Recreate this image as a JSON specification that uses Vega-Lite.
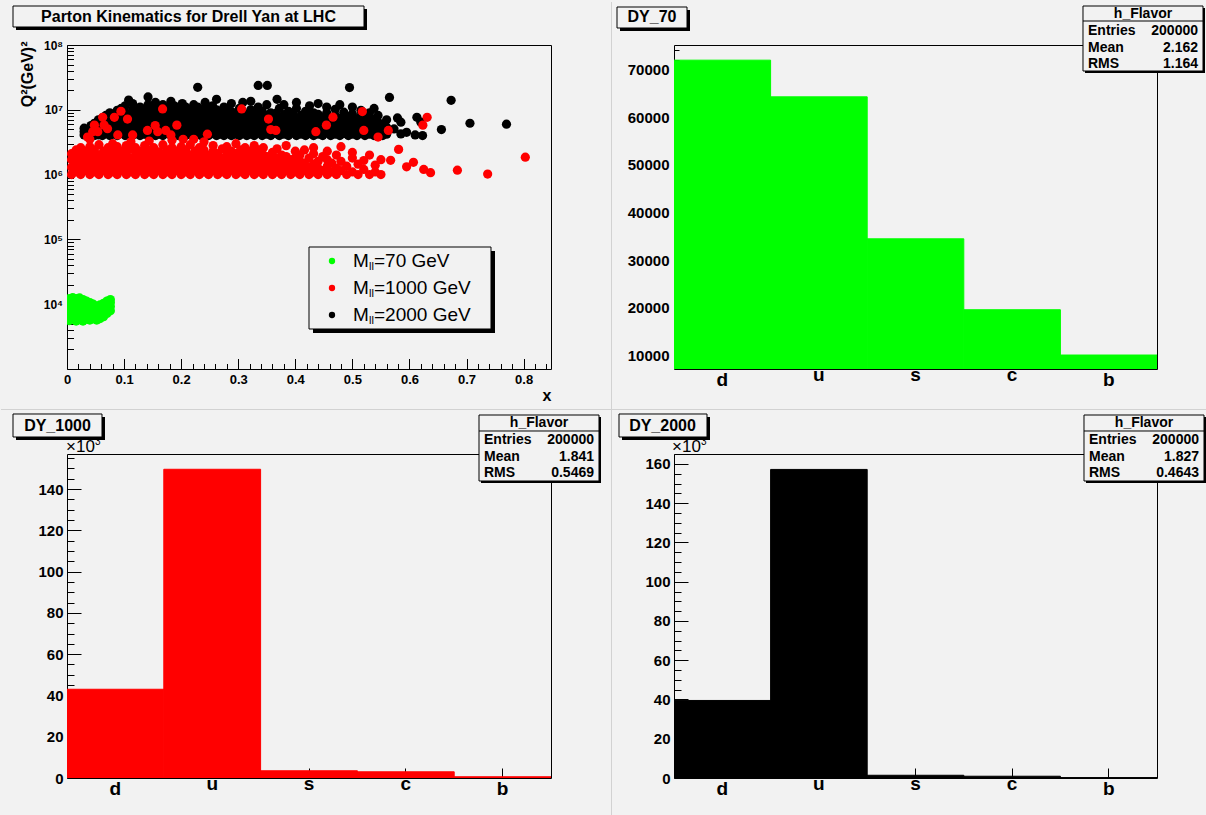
{
"$schema": "https://vega.github.io/schema/vega-lite/v6.json",
"background": "#f2f2f2",
"padding": 0,
"autosize": {"type": "pad"},
"data": {"values": [{}]},
"columns": 2,
"spacing": {"row": 85, "column": 123},
"bounds": "flush",
"config": {
  "font": "Liberation Sans",
  "view": {"stroke": "#000000", "strokeWidth": 1},
  "axis": {"domain": false, "grid": false, "zindex": 1, "labelFont": "Liberation Sans", "labelFontWeight": "bold", "labelColor": "#000000", "tickColor": "#000000", "tickWidth": 1, "titleFont": "Liberation Sans", "titleFontWeight": "bold", "titleColor": "#000000", "labelOverlap": false, "labelFlush": false},
  "text": {"font": "Liberation Sans", "color": "#000000"}
},
"concat": [
{
  "width": 484, "height": 324,
  "resolve": {"scale": {"x": "independent", "y": "independent"}},
  "layer": [
    {
      "data": {"values": [
{"s":"70","x":0.004,"q":5600},{"s":"70","x":0.004,"q":6500},{"s":"70","x":0.004,"q":7600},{"s":"70","x":0.004,"q":8900},{"s":"70","x":0.004,"q":10500},{"s":"70","x":0.004,"q":12200},
{"s":"70","x":0.010,"q":6000},{"s":"70","x":0.010,"q":7000},{"s":"70","x":0.010,"q":8200},{"s":"70","x":0.010,"q":9600},{"s":"70","x":0.010,"q":11300},{"s":"70","x":0.010,"q":12600},
{"s":"70","x":0.016,"q":5500},{"s":"70","x":0.016,"q":6400},{"s":"70","x":0.016,"q":7500},{"s":"70","x":0.016,"q":8800},{"s":"70","x":0.016,"q":10300},{"s":"70","x":0.016,"q":12200},
{"s":"70","x":0.022,"q":5800},{"s":"70","x":0.022,"q":6800},{"s":"70","x":0.022,"q":8000},{"s":"70","x":0.022,"q":9400},{"s":"70","x":0.022,"q":11000},{"s":"70","x":0.022,"q":12500},
{"s":"70","x":0.028,"q":5500},{"s":"70","x":0.028,"q":6300},{"s":"70","x":0.028,"q":7400},{"s":"70","x":0.028,"q":8700},{"s":"70","x":0.028,"q":10200},{"s":"70","x":0.028,"q":11800},
{"s":"70","x":0.034,"q":5900},{"s":"70","x":0.034,"q":7000},{"s":"70","x":0.034,"q":8300},{"s":"70","x":0.034,"q":9800},{"s":"70","x":0.034,"q":11200},
{"s":"70","x":0.040,"q":5700},{"s":"70","x":0.040,"q":6600},{"s":"70","x":0.040,"q":7800},{"s":"70","x":0.040,"q":9200},{"s":"70","x":0.040,"q":10600},
{"s":"70","x":0.046,"q":6000},{"s":"70","x":0.046,"q":7200},{"s":"70","x":0.046,"q":8500},{"s":"70","x":0.046,"q":10000},
{"s":"70","x":0.052,"q":5700},{"s":"70","x":0.052,"q":6700},{"s":"70","x":0.052,"q":7900},{"s":"70","x":0.052,"q":9300},
{"s":"70","x":0.058,"q":6000},{"s":"70","x":0.058,"q":7100},{"s":"70","x":0.058,"q":8400},{"s":"70","x":0.058,"q":9800},
{"s":"70","x":0.064,"q":6400},{"s":"70","x":0.064,"q":7500},{"s":"70","x":0.064,"q":8800},{"s":"70","x":0.064,"q":10300},
{"s":"70","x":0.070,"q":7200},{"s":"70","x":0.070,"q":8400},{"s":"70","x":0.070,"q":9800},{"s":"70","x":0.070,"q":11200},
{"s":"70","x":0.076,"q":7900},{"s":"70","x":0.076,"q":9200},{"s":"70","x":0.076,"q":10600},{"s":"70","x":0.076,"q":11800},
{"s":"2000","x":0.030,"q":4.1e6},{"s":"2000","x":0.030,"q":4.6e6},{"s":"2000","x":0.030,"q":5.2e6},
{"s":"2000","x":0.036,"q":4.0e6},{"s":"2000","x":0.036,"q":4.8e6},
{"s":"2000","x":0.042,"q":4.2e6},{"s":"2000","x":0.042,"q":5.0e6},{"s":"2000","x":0.042,"q":5.7e6},
{"s":"2000","x":0.048,"q":4.0e6},{"s":"2000","x":0.048,"q":4.5e6},{"s":"2000","x":0.048,"q":5.4e6},{"s":"2000","x":0.048,"q":6.2e6},
{"s":"2000","x":0.055,"q":4.1e6},{"s":"2000","x":0.055,"q":4.9e6},{"s":"2000","x":0.055,"q":5.9e6},{"s":"2000","x":0.055,"q":7.0e6},
{"s":"2000","x":0.062,"q":4.0e6},{"s":"2000","x":0.062,"q":4.6e6},{"s":"2000","x":0.062,"q":5.3e6},{"s":"2000","x":0.062,"q":6.4e6},{"s":"2000","x":0.062,"q":7.5e6},
{"s":"2000","x":0.068,"q":4.3e6},{"s":"2000","x":0.068,"q":5.0e6},{"s":"2000","x":0.068,"q":6.0e6},{"s":"2000","x":0.068,"q":8.2e6},
{"s":"2000","x":0.075,"q":4.0e6},{"s":"2000","x":0.075,"q":4.7e6},{"s":"2000","x":0.075,"q":5.6e6},{"s":"2000","x":0.075,"q":6.8e6},{"s":"2000","x":0.075,"q":9.0e6},
{"s":"2000","x":0.082,"q":4.2e6},{"s":"2000","x":0.082,"q":5.2e6},{"s":"2000","x":0.082,"q":6.2e6},{"s":"2000","x":0.082,"q":7.6e6},{"s":"2000","x":0.082,"q":8.6e6},
{"s":"2000","x":0.088,"q":4.0e6},{"s":"2000","x":0.088,"q":4.6e6},{"s":"2000","x":0.088,"q":5.8e6},{"s":"2000","x":0.088,"q":7.0e6},{"s":"2000","x":0.088,"q":9.8e6},
{"s":"2000","x":0.095,"q":4.4e6},{"s":"2000","x":0.095,"q":5.3e6},{"s":"2000","x":0.095,"q":6.5e6},{"s":"2000","x":0.095,"q":8.0e6},{"s":"2000","x":0.095,"q":10.5e6},
{"s":"2000","x":0.102,"q":4.0e6},{"s":"2000","x":0.102,"q":4.9e6},{"s":"2000","x":0.102,"q":6.0e6},{"s":"2000","x":0.102,"q":7.3e6},{"s":"2000","x":0.102,"q":9.0e6},{"s":"2000","x":0.102,"q":11.5e6},
{"s":"2000","x":0.108,"q":4.2e6},{"s":"2000","x":0.108,"q":5.5e6},{"s":"2000","x":0.108,"q":6.8e6},{"s":"2000","x":0.108,"q":8.4e6},{"s":"2000","x":0.108,"q":14.1e6},
{"s":"2000","x":0.115,"q":4.0e6},{"s":"2000","x":0.115,"q":4.7e6},{"s":"2000","x":0.115,"q":6.2e6},{"s":"2000","x":0.115,"q":7.8e6},{"s":"2000","x":0.115,"q":10.0e6},{"s":"2000","x":0.115,"q":12.5e6},
{"s":"2000","x":0.122,"q":4.3e6},{"s":"2000","x":0.122,"q":5.2e6},{"s":"2000","x":0.122,"q":6.5e6},{"s":"2000","x":0.122,"q":9.2e6},
{"s":"2000","x":0.128,"q":4.0e6},{"s":"2000","x":0.128,"q":4.8e6},{"s":"2000","x":0.128,"q":5.8e6},{"s":"2000","x":0.128,"q":7.2e6},{"s":"2000","x":0.128,"q":8.6e6},{"s":"2000","x":0.128,"q":11.0e6},
{"s":"2000","x":0.135,"q":4.2e6},{"s":"2000","x":0.135,"q":5.4e6},{"s":"2000","x":0.135,"q":6.6e6},{"s":"2000","x":0.135,"q":8.0e6},{"s":"2000","x":0.135,"q":10.2e6},
{"s":"2000","x":0.142,"q":4.0e6},{"s":"2000","x":0.142,"q":4.6e6},{"s":"2000","x":0.142,"q":5.9e6},{"s":"2000","x":0.142,"q":7.4e6},{"s":"2000","x":0.142,"q":9.4e6},{"s":"2000","x":0.142,"q":12.0e6},{"s":"2000","x":0.142,"q":15.8e6},
{"s":"2000","x":0.148,"q":4.3e6},{"s":"2000","x":0.148,"q":5.1e6},{"s":"2000","x":0.148,"q":6.3e6},{"s":"2000","x":0.148,"q":8.6e6},{"s":"2000","x":0.148,"q":11.0e6},
{"s":"2000","x":0.155,"q":4.0e6},{"s":"2000","x":0.155,"q":4.8e6},{"s":"2000","x":0.155,"q":5.7e6},{"s":"2000","x":0.155,"q":7.0e6},{"s":"2000","x":0.155,"q":9.0e6},{"s":"2000","x":0.155,"q":13.0e6},
{"s":"2000","x":0.162,"q":4.2e6},{"s":"2000","x":0.162,"q":5.3e6},{"s":"2000","x":0.162,"q":6.6e6},{"s":"2000","x":0.162,"q":8.0e6},{"s":"2000","x":0.162,"q":10.5e6},
{"s":"2000","x":0.168,"q":4.0e6},{"s":"2000","x":0.168,"q":4.7e6},{"s":"2000","x":0.168,"q":6.0e6},{"s":"2000","x":0.168,"q":7.5e6},{"s":"2000","x":0.168,"q":9.5e6},{"s":"2000","x":0.168,"q":12.0e6},
{"s":"2000","x":0.175,"q":4.4e6},{"s":"2000","x":0.175,"q":5.5e6},{"s":"2000","x":0.175,"q":6.9e6},{"s":"2000","x":0.175,"q":8.6e6},{"s":"2000","x":0.175,"q":11.0e6},
{"s":"2000","x":0.182,"q":4.0e6},{"s":"2000","x":0.182,"q":4.9e6},{"s":"2000","x":0.182,"q":6.2e6},{"s":"2000","x":0.182,"q":7.8e6},{"s":"2000","x":0.182,"q":10.0e6},{"s":"2000","x":0.182,"q":13.5e6},
{"s":"2000","x":0.188,"q":4.2e6},{"s":"2000","x":0.188,"q":5.6e6},{"s":"2000","x":0.188,"q":7.1e6},{"s":"2000","x":0.188,"q":9.0e6},{"s":"2000","x":0.188,"q":11.5e6},
{"s":"2000","x":0.195,"q":4.0e6},{"s":"2000","x":0.195,"q":4.6e6},{"s":"2000","x":0.195,"q":5.9e6},{"s":"2000","x":0.195,"q":6.8e6},{"s":"2000","x":0.195,"q":8.2e6},{"s":"2000","x":0.195,"q":10.5e6},
{"s":"2000","x":0.202,"q":4.3e6},{"s":"2000","x":0.202,"q":5.2e6},{"s":"2000","x":0.202,"q":6.4e6},{"s":"2000","x":0.202,"q":7.6e6},{"s":"2000","x":0.202,"q":9.6e6},{"s":"2000","x":0.202,"q":12.5e6},
{"s":"2000","x":0.208,"q":4.0e6},{"s":"2000","x":0.208,"q":4.8e6},{"s":"2000","x":0.208,"q":5.8e6},{"s":"2000","x":0.208,"q":7.2e6},{"s":"2000","x":0.208,"q":8.8e6},{"s":"2000","x":0.208,"q":11.0e6},
{"s":"2000","x":0.215,"q":4.2e6},{"s":"2000","x":0.215,"q":5.4e6},{"s":"2000","x":0.215,"q":6.6e6},{"s":"2000","x":0.215,"q":8.0e6},{"s":"2000","x":0.215,"q":10.0e6},
{"s":"2000","x":0.222,"q":4.0e6},{"s":"2000","x":0.222,"q":4.9e6},{"s":"2000","x":0.222,"q":6.1e6},{"s":"2000","x":0.222,"q":7.6e6},{"s":"2000","x":0.222,"q":9.2e6},{"s":"2000","x":0.222,"q":12.0e6},
{"s":"2000","x":0.229,"q":4.3e6},{"s":"2000","x":0.229,"q":5.6e6},{"s":"2000","x":0.229,"q":6.9e6},{"s":"2000","x":0.229,"q":8.6e6},{"s":"2000","x":0.229,"q":11.0e6},{"s":"2000","x":0.229,"q":22.2e6},
{"s":"2000","x":0.235,"q":4.0e6},{"s":"2000","x":0.235,"q":4.7e6},{"s":"2000","x":0.235,"q":6.0e6},{"s":"2000","x":0.235,"q":7.2e6},{"s":"2000","x":0.235,"q":9.5e6},
{"s":"2000","x":0.242,"q":4.2e6},{"s":"2000","x":0.242,"q":5.3e6},{"s":"2000","x":0.242,"q":6.5e6},{"s":"2000","x":0.242,"q":8.2e6},{"s":"2000","x":0.242,"q":10.5e6},{"s":"2000","x":0.242,"q":13.0e6},
{"s":"2000","x":0.248,"q":4.0e6},{"s":"2000","x":0.248,"q":4.8e6},{"s":"2000","x":0.248,"q":5.9e6},{"s":"2000","x":0.248,"q":7.4e6},{"s":"2000","x":0.248,"q":9.0e6},
{"s":"2000","x":0.255,"q":4.3e6},{"s":"2000","x":0.255,"q":5.5e6},{"s":"2000","x":0.255,"q":6.8e6},{"s":"2000","x":0.255,"q":8.5e6},{"s":"2000","x":0.255,"q":11.5e6},
{"s":"2000","x":0.262,"q":4.0e6},{"s":"2000","x":0.262,"q":4.9e6},{"s":"2000","x":0.262,"q":6.2e6},{"s":"2000","x":0.262,"q":7.8e6},{"s":"2000","x":0.262,"q":10.0e6},{"s":"2000","x":0.262,"q":14.5e6},
{"s":"2000","x":0.268,"q":4.2e6},{"s":"2000","x":0.268,"q":5.6e6},{"s":"2000","x":0.268,"q":7.0e6},{"s":"2000","x":0.268,"q":9.0e6},
{"s":"2000","x":0.275,"q":4.0e6},{"s":"2000","x":0.275,"q":4.7e6},{"s":"2000","x":0.275,"q":5.9e6},{"s":"2000","x":0.275,"q":7.4e6},{"s":"2000","x":0.275,"q":8.5e6},{"s":"2000","x":0.275,"q":11.0e6},
{"s":"2000","x":0.282,"q":4.3e6},{"s":"2000","x":0.282,"q":5.2e6},{"s":"2000","x":0.282,"q":6.5e6},{"s":"2000","x":0.282,"q":8.0e6},{"s":"2000","x":0.282,"q":10.2e6},
{"s":"2000","x":0.288,"q":4.0e6},{"s":"2000","x":0.288,"q":4.8e6},{"s":"2000","x":0.288,"q":6.0e6},{"s":"2000","x":0.288,"q":7.2e6},{"s":"2000","x":0.288,"q":9.4e6},{"s":"2000","x":0.288,"q":12.5e6},
{"s":"2000","x":0.295,"q":4.2e6},{"s":"2000","x":0.295,"q":5.4e6},{"s":"2000","x":0.295,"q":6.8e6},{"s":"2000","x":0.295,"q":8.6e6},
{"s":"2000","x":0.302,"q":4.0e6},{"s":"2000","x":0.302,"q":4.9e6},{"s":"2000","x":0.302,"q":6.2e6},{"s":"2000","x":0.302,"q":7.8e6},{"s":"2000","x":0.302,"q":10.5e6},
{"s":"2000","x":0.308,"q":4.3e6},{"s":"2000","x":0.308,"q":5.6e6},{"s":"2000","x":0.308,"q":7.0e6},{"s":"2000","x":0.308,"q":9.0e6},{"s":"2000","x":0.308,"q":13.0e6},
{"s":"2000","x":0.315,"q":4.0e6},{"s":"2000","x":0.315,"q":4.7e6},{"s":"2000","x":0.315,"q":5.9e6},{"s":"2000","x":0.315,"q":7.4e6},{"s":"2000","x":0.315,"q":8.5e6},
{"s":"2000","x":0.322,"q":4.2e6},{"s":"2000","x":0.322,"q":5.3e6},{"s":"2000","x":0.322,"q":6.6e6},{"s":"2000","x":0.322,"q":8.0e6},{"s":"2000","x":0.322,"q":10.0e6},{"s":"2000","x":0.322,"q":13.5e6},
{"s":"2000","x":0.328,"q":4.0e6},{"s":"2000","x":0.328,"q":4.8e6},{"s":"2000","x":0.328,"q":6.0e6},{"s":"2000","x":0.328,"q":7.0e6},{"s":"2000","x":0.328,"q":9.2e6},
{"s":"2000","x":0.335,"q":4.4e6},{"s":"2000","x":0.335,"q":5.5e6},{"s":"2000","x":0.335,"q":6.8e6},{"s":"2000","x":0.335,"q":8.6e6},{"s":"2000","x":0.335,"q":11.0e6},{"s":"2000","x":0.335,"q":23.8e6},
{"s":"2000","x":0.342,"q":4.0e6},{"s":"2000","x":0.342,"q":4.9e6},{"s":"2000","x":0.342,"q":6.2e6},{"s":"2000","x":0.342,"q":7.6e6},{"s":"2000","x":0.342,"q":9.5e6},
{"s":"2000","x":0.350,"q":4.2e6},{"s":"2000","x":0.350,"q":5.3e6},{"s":"2000","x":0.350,"q":6.5e6},{"s":"2000","x":0.350,"q":8.2e6},{"s":"2000","x":0.350,"q":12.0e6},{"s":"2000","x":0.351,"q":23.8e6},
{"s":"2000","x":0.357,"q":4.0e6},{"s":"2000","x":0.357,"q":4.7e6},{"s":"2000","x":0.357,"q":5.8e6},{"s":"2000","x":0.357,"q":7.2e6},{"s":"2000","x":0.357,"q":9.0e6},
{"s":"2000","x":0.366,"q":4.3e6},{"s":"2000","x":0.366,"q":5.5e6},{"s":"2000","x":0.366,"q":6.9e6},{"s":"2000","x":0.366,"q":8.8e6},{"s":"2000","x":0.368,"q":14.5e6},
{"s":"2000","x":0.372,"q":4.0e6},{"s":"2000","x":0.372,"q":4.9e6},{"s":"2000","x":0.372,"q":6.2e6},{"s":"2000","x":0.372,"q":7.6e6},{"s":"2000","x":0.372,"q":10.5e6},
{"s":"2000","x":0.380,"q":4.2e6},{"s":"2000","x":0.380,"q":5.3e6},{"s":"2000","x":0.380,"q":6.5e6},{"s":"2000","x":0.380,"q":8.4e6},{"s":"2000","x":0.380,"q":12.0e6},
{"s":"2000","x":0.388,"q":4.0e6},{"s":"2000","x":0.388,"q":4.8e6},{"s":"2000","x":0.388,"q":6.0e6},{"s":"2000","x":0.388,"q":7.2e6},{"s":"2000","x":0.388,"q":9.5e6},
{"s":"2000","x":0.395,"q":4.4e6},{"s":"2000","x":0.395,"q":5.6e6},{"s":"2000","x":0.395,"q":6.9e6},{"s":"2000","x":0.395,"q":8.8e6},
{"s":"2000","x":0.402,"q":4.0e6},{"s":"2000","x":0.402,"q":4.9e6},{"s":"2000","x":0.402,"q":6.2e6},{"s":"2000","x":0.402,"q":7.5e6},{"s":"2000","x":0.402,"q":10.5e6},{"s":"2000","x":0.402,"q":13.0e6},
{"s":"2000","x":0.410,"q":4.2e6},{"s":"2000","x":0.410,"q":5.4e6},{"s":"2000","x":0.410,"q":6.6e6},{"s":"2000","x":0.410,"q":8.2e6},
{"s":"2000","x":0.418,"q":4.0e6},{"s":"2000","x":0.418,"q":4.7e6},{"s":"2000","x":0.418,"q":5.9e6},{"s":"2000","x":0.418,"q":7.4e6},{"s":"2000","x":0.418,"q":9.5e6},
{"s":"2000","x":0.425,"q":4.3e6},{"s":"2000","x":0.425,"q":5.2e6},{"s":"2000","x":0.425,"q":6.4e6},{"s":"2000","x":0.425,"q":8.0e6},{"s":"2000","x":0.425,"q":11.5e6},
{"s":"2000","x":0.432,"q":4.0e6},{"s":"2000","x":0.432,"q":4.8e6},{"s":"2000","x":0.432,"q":6.0e6},{"s":"2000","x":0.432,"q":7.0e6},{"s":"2000","x":0.432,"q":9.0e6},
{"s":"2000","x":0.440,"q":4.2e6},{"s":"2000","x":0.440,"q":5.5e6},{"s":"2000","x":0.440,"q":6.8e6},{"s":"2000","x":0.440,"q":8.5e6},{"s":"2000","x":0.440,"q":12.5e6},
{"s":"2000","x":0.448,"q":4.0e6},{"s":"2000","x":0.448,"q":4.9e6},{"s":"2000","x":0.448,"q":6.1e6},{"s":"2000","x":0.448,"q":7.6e6},
{"s":"2000","x":0.455,"q":4.4e6},{"s":"2000","x":0.455,"q":5.4e6},{"s":"2000","x":0.455,"q":6.5e6},{"s":"2000","x":0.455,"q":9.0e6},{"s":"2000","x":0.455,"q":11.0e6},
{"s":"2000","x":0.462,"q":4.0e6},{"s":"2000","x":0.462,"q":4.7e6},{"s":"2000","x":0.462,"q":5.8e6},{"s":"2000","x":0.462,"q":7.2e6},
{"s":"2000","x":0.470,"q":4.2e6},{"s":"2000","x":0.470,"q":5.2e6},{"s":"2000","x":0.470,"q":6.4e6},{"s":"2000","x":0.470,"q":8.2e6},{"s":"2000","x":0.470,"q":10.2e6},
{"s":"2000","x":0.478,"q":4.0e6},{"s":"2000","x":0.478,"q":4.8e6},{"s":"2000","x":0.478,"q":6.0e6},{"s":"2000","x":0.478,"q":7.4e6},{"s":"2000","x":0.478,"q":12.0e6},
{"s":"2000","x":0.485,"q":4.3e6},{"s":"2000","x":0.485,"q":5.6e6},{"s":"2000","x":0.485,"q":6.9e6},{"s":"2000","x":0.485,"q":9.2e6},
{"s":"2000","x":0.493,"q":4.0e6},{"s":"2000","x":0.493,"q":4.9e6},{"s":"2000","x":0.493,"q":6.2e6},{"s":"2000","x":0.493,"q":7.8e6},{"s":"2000","x":0.495,"q":22.0e6},
{"s":"2000","x":0.500,"q":4.2e6},{"s":"2000","x":0.500,"q":5.4e6},{"s":"2000","x":0.500,"q":6.6e6},{"s":"2000","x":0.500,"q":8.6e6},{"s":"2000","x":0.500,"q":11.0e6},
{"s":"2000","x":0.508,"q":4.0e6},{"s":"2000","x":0.508,"q":4.7e6},{"s":"2000","x":0.508,"q":5.8e6},{"s":"2000","x":0.508,"q":7.2e6},
{"s":"2000","x":0.515,"q":4.3e6},{"s":"2000","x":0.515,"q":5.2e6},{"s":"2000","x":0.515,"q":6.4e6},{"s":"2000","x":0.515,"q":8.0e6},{"s":"2000","x":0.515,"q":9.8e6},
{"s":"2000","x":0.522,"q":4.0e6},{"s":"2000","x":0.522,"q":4.9e6},{"s":"2000","x":0.522,"q":6.0e6},{"s":"2000","x":0.522,"q":7.5e6},
{"s":"2000","x":0.530,"q":4.2e6},{"s":"2000","x":0.530,"q":5.5e6},{"s":"2000","x":0.530,"q":6.8e6},{"s":"2000","x":0.530,"q":9.0e6},
{"s":"2000","x":0.538,"q":4.0e6},{"s":"2000","x":0.538,"q":4.6e6},{"s":"2000","x":0.538,"q":5.8e6},{"s":"2000","x":0.538,"q":7.2e6},{"s":"2000","x":0.538,"q":10.5e6},
{"s":"2000","x":0.545,"q":4.4e6},{"s":"2000","x":0.545,"q":5.3e6},{"s":"2000","x":0.545,"q":6.4e6},{"s":"2000","x":0.545,"q":8.2e6},
{"s":"2000","x":0.553,"q":4.0e6},{"s":"2000","x":0.553,"q":4.8e6},{"s":"2000","x":0.553,"q":6.0e6},
{"s":"2000","x":0.560,"q":4.2e6},{"s":"2000","x":0.560,"q":5.4e6},{"s":"2000","x":0.560,"q":7.0e6},{"s":"2000","x":0.565,"q":15.5e6},
{"s":"2000","x":0.579,"q":7.5e6},{"s":"2000","x":0.585,"q":6.45e6},{"s":"2000","x":0.613,"q":7.67e6},{"s":"2000","x":0.620,"q":6.45e6},{"s":"2000","x":0.573,"q":5.07e6},{"s":"2000","x":0.585,"q":4.25e6},{"s":"2000","x":0.595,"q":4.5e6},{"s":"2000","x":0.610,"q":4.1e6},{"s":"2000","x":0.623,"q":4.0e6},{"s":"2000","x":0.656,"q":4.95e6},{"s":"2000","x":0.673,"q":14.0e6},{"s":"2000","x":0.706,"q":6.2e6},{"s":"2000","x":0.770,"q":6.0e6},
{"s":"1000","x":0.008,"q":1.0e6},{"s":"1000","x":0.008,"q":1.3e6},{"s":"1000","x":0.008,"q":1.7e6},{"s":"1000","x":0.008,"q":2.1e6},
{"s":"1000","x":0.016,"q":1.1e6},{"s":"1000","x":0.016,"q":1.45e6},{"s":"1000","x":0.016,"q":1.9e6},{"s":"1000","x":0.016,"q":2.4e6},
{"s":"1000","x":0.024,"q":1.0e6},{"s":"1000","x":0.024,"q":1.25e6},{"s":"1000","x":0.024,"q":1.6e6},{"s":"1000","x":0.024,"q":2.0e6},{"s":"1000","x":0.024,"q":2.6e6},
{"s":"1000","x":0.032,"q":1.15e6},{"s":"1000","x":0.032,"q":1.4e6},{"s":"1000","x":0.032,"q":1.8e6},{"s":"1000","x":0.032,"q":2.3e6},
{"s":"1000","x":0.040,"q":1.0e6},{"s":"1000","x":0.040,"q":1.3e6},{"s":"1000","x":0.040,"q":1.65e6},{"s":"1000","x":0.040,"q":2.1e6},{"s":"1000","x":0.040,"q":2.7e6},{"s":"1000","x":0.040,"q":3.5e6},
{"s":"1000","x":0.048,"q":1.1e6},{"s":"1000","x":0.048,"q":1.45e6},{"s":"1000","x":0.048,"q":1.85e6},{"s":"1000","x":0.048,"q":2.4e6},
{"s":"1000","x":0.056,"q":1.0e6},{"s":"1000","x":0.056,"q":1.25e6},{"s":"1000","x":0.056,"q":1.6e6},{"s":"1000","x":0.056,"q":2.0e6},{"s":"1000","x":0.056,"q":2.9e6},
{"s":"1000","x":0.064,"q":1.15e6},{"s":"1000","x":0.064,"q":1.5e6},{"s":"1000","x":0.064,"q":1.9e6},{"s":"1000","x":0.064,"q":2.3e6},
{"s":"1000","x":0.072,"q":1.0e6},{"s":"1000","x":0.072,"q":1.3e6},{"s":"1000","x":0.072,"q":1.7e6},{"s":"1000","x":0.072,"q":2.1e6},{"s":"1000","x":0.072,"q":2.6e6},
{"s":"1000","x":0.080,"q":1.1e6},{"s":"1000","x":0.080,"q":1.4e6},{"s":"1000","x":0.080,"q":1.8e6},{"s":"1000","x":0.080,"q":2.4e6},{"s":"1000","x":0.080,"q":3.0e6},
{"s":"1000","x":0.088,"q":1.0e6},{"s":"1000","x":0.088,"q":1.25e6},{"s":"1000","x":0.088,"q":1.6e6},{"s":"1000","x":0.088,"q":2.0e6},{"s":"1000","x":0.088,"q":2.7e6},
{"s":"1000","x":0.096,"q":1.15e6},{"s":"1000","x":0.096,"q":1.5e6},{"s":"1000","x":0.096,"q":1.9e6},{"s":"1000","x":0.096,"q":2.3e6},
{"s":"1000","x":0.104,"q":1.0e6},{"s":"1000","x":0.104,"q":1.3e6},{"s":"1000","x":0.104,"q":1.65e6},{"s":"1000","x":0.104,"q":2.1e6},{"s":"1000","x":0.104,"q":2.8e6},
{"s":"1000","x":0.112,"q":1.1e6},{"s":"1000","x":0.112,"q":1.4e6},{"s":"1000","x":0.112,"q":1.8e6},{"s":"1000","x":0.112,"q":2.5e6},{"s":"1000","x":0.112,"q":3.2e6},
{"s":"1000","x":0.120,"q":1.0e6},{"s":"1000","x":0.120,"q":1.25e6},{"s":"1000","x":0.120,"q":1.55e6},{"s":"1000","x":0.120,"q":2.0e6},{"s":"1000","x":0.120,"q":2.6e6},
{"s":"1000","x":0.128,"q":1.15e6},{"s":"1000","x":0.128,"q":1.45e6},{"s":"1000","x":0.128,"q":1.9e6},{"s":"1000","x":0.128,"q":2.3e6},
{"s":"1000","x":0.136,"q":1.0e6},{"s":"1000","x":0.136,"q":1.3e6},{"s":"1000","x":0.136,"q":1.7e6},{"s":"1000","x":0.136,"q":2.1e6},{"s":"1000","x":0.136,"q":2.8e6},
{"s":"1000","x":0.144,"q":1.1e6},{"s":"1000","x":0.144,"q":1.4e6},{"s":"1000","x":0.144,"q":1.8e6},{"s":"1000","x":0.144,"q":2.4e6},{"s":"1000","x":0.144,"q":3.3e6},
{"s":"1000","x":0.152,"q":1.0e6},{"s":"1000","x":0.152,"q":1.25e6},{"s":"1000","x":0.152,"q":1.6e6},{"s":"1000","x":0.152,"q":2.0e6},{"s":"1000","x":0.152,"q":2.6e6},
{"s":"1000","x":0.160,"q":1.15e6},{"s":"1000","x":0.160,"q":1.5e6},{"s":"1000","x":0.160,"q":1.9e6},{"s":"1000","x":0.160,"q":2.25e6},
{"s":"1000","x":0.168,"q":1.0e6},{"s":"1000","x":0.168,"q":1.3e6},{"s":"1000","x":0.168,"q":1.65e6},{"s":"1000","x":0.168,"q":2.1e6},{"s":"1000","x":0.168,"q":2.9e6},
{"s":"1000","x":0.176,"q":1.1e6},{"s":"1000","x":0.176,"q":1.4e6},{"s":"1000","x":0.176,"q":1.8e6},{"s":"1000","x":0.176,"q":2.4e6},
{"s":"1000","x":0.184,"q":1.0e6},{"s":"1000","x":0.184,"q":1.25e6},{"s":"1000","x":0.184,"q":1.55e6},{"s":"1000","x":0.184,"q":2.0e6},{"s":"1000","x":0.184,"q":2.6e6},{"s":"1000","x":0.184,"q":3.4e6},
{"s":"1000","x":0.192,"q":1.15e6},{"s":"1000","x":0.192,"q":1.45e6},{"s":"1000","x":0.192,"q":1.9e6},{"s":"1000","x":0.192,"q":2.3e6},
{"s":"1000","x":0.200,"q":1.0e6},{"s":"1000","x":0.200,"q":1.3e6},{"s":"1000","x":0.200,"q":1.7e6},{"s":"1000","x":0.200,"q":2.1e6},{"s":"1000","x":0.200,"q":2.7e6},
{"s":"1000","x":0.208,"q":1.1e6},{"s":"1000","x":0.208,"q":1.4e6},{"s":"1000","x":0.208,"q":1.8e6},{"s":"1000","x":0.208,"q":2.4e6},
{"s":"1000","x":0.216,"q":1.0e6},{"s":"1000","x":0.216,"q":1.25e6},{"s":"1000","x":0.216,"q":1.6e6},{"s":"1000","x":0.216,"q":2.0e6},{"s":"1000","x":0.216,"q":2.9e6},
{"s":"1000","x":0.224,"q":1.15e6},{"s":"1000","x":0.224,"q":1.5e6},{"s":"1000","x":0.224,"q":1.9e6},{"s":"1000","x":0.224,"q":2.3e6},
{"s":"1000","x":0.232,"q":1.0e6},{"s":"1000","x":0.232,"q":1.3e6},{"s":"1000","x":0.232,"q":1.65e6},{"s":"1000","x":0.232,"q":2.1e6},{"s":"1000","x":0.232,"q":2.6e6},
{"s":"1000","x":0.240,"q":1.1e6},{"s":"1000","x":0.240,"q":1.4e6},{"s":"1000","x":0.240,"q":1.8e6},{"s":"1000","x":0.240,"q":2.4e6},{"s":"1000","x":0.240,"q":3.2e6},
{"s":"1000","x":0.248,"q":1.0e6},{"s":"1000","x":0.248,"q":1.25e6},{"s":"1000","x":0.248,"q":1.55e6},{"s":"1000","x":0.248,"q":2.0e6},
{"s":"1000","x":0.256,"q":1.15e6},{"s":"1000","x":0.256,"q":1.45e6},{"s":"1000","x":0.256,"q":1.9e6},{"s":"1000","x":0.256,"q":2.3e6},{"s":"1000","x":0.256,"q":2.8e6},
{"s":"1000","x":0.264,"q":1.0e6},{"s":"1000","x":0.264,"q":1.3e6},{"s":"1000","x":0.264,"q":1.7e6},{"s":"1000","x":0.264,"q":2.1e6},
{"s":"1000","x":0.272,"q":1.1e6},{"s":"1000","x":0.272,"q":1.4e6},{"s":"1000","x":0.272,"q":1.8e6},{"s":"1000","x":0.272,"q":2.5e6},
{"s":"1000","x":0.280,"q":1.0e6},{"s":"1000","x":0.280,"q":1.25e6},{"s":"1000","x":0.280,"q":1.6e6},{"s":"1000","x":0.280,"q":2.0e6},{"s":"1000","x":0.280,"q":2.7e6},
{"s":"1000","x":0.288,"q":1.15e6},{"s":"1000","x":0.288,"q":1.5e6},{"s":"1000","x":0.288,"q":1.9e6},{"s":"1000","x":0.288,"q":2.3e6},
{"s":"1000","x":0.296,"q":1.0e6},{"s":"1000","x":0.296,"q":1.3e6},{"s":"1000","x":0.296,"q":1.65e6},{"s":"1000","x":0.296,"q":2.1e6},{"s":"1000","x":0.296,"q":3.0e6},
{"s":"1000","x":0.304,"q":1.1e6},{"s":"1000","x":0.304,"q":1.4e6},{"s":"1000","x":0.304,"q":1.8e6},{"s":"1000","x":0.304,"q":2.4e6},
{"s":"1000","x":0.312,"q":1.0e6},{"s":"1000","x":0.312,"q":1.25e6},{"s":"1000","x":0.312,"q":1.55e6},{"s":"1000","x":0.312,"q":2.0e6},{"s":"1000","x":0.312,"q":2.6e6},
{"s":"1000","x":0.320,"q":1.15e6},{"s":"1000","x":0.320,"q":1.45e6},{"s":"1000","x":0.320,"q":1.9e6},{"s":"1000","x":0.320,"q":2.3e6},
{"s":"1000","x":0.328,"q":1.0e6},{"s":"1000","x":0.328,"q":1.3e6},{"s":"1000","x":0.328,"q":1.7e6},{"s":"1000","x":0.328,"q":2.1e6},{"s":"1000","x":0.328,"q":2.8e6},
{"s":"1000","x":0.336,"q":1.1e6},{"s":"1000","x":0.336,"q":1.4e6},{"s":"1000","x":0.336,"q":1.8e6},{"s":"1000","x":0.336,"q":2.4e6},
{"s":"1000","x":0.344,"q":1.0e6},{"s":"1000","x":0.344,"q":1.25e6},{"s":"1000","x":0.344,"q":1.6e6},{"s":"1000","x":0.344,"q":2.0e6},{"s":"1000","x":0.344,"q":2.6e6},
{"s":"1000","x":0.352,"q":1.15e6},{"s":"1000","x":0.352,"q":1.5e6},{"s":"1000","x":0.352,"q":1.9e6},
{"s":"1000","x":0.360,"q":1.0e6},{"s":"1000","x":0.360,"q":1.3e6},{"s":"1000","x":0.360,"q":1.65e6},{"s":"1000","x":0.360,"q":2.2e6},
{"s":"1000","x":0.368,"q":1.1e6},{"s":"1000","x":0.368,"q":1.4e6},{"s":"1000","x":0.368,"q":1.8e6},{"s":"1000","x":0.368,"q":2.5e6},
{"s":"1000","x":0.376,"q":1.0e6},{"s":"1000","x":0.376,"q":1.25e6},{"s":"1000","x":0.376,"q":1.55e6},{"s":"1000","x":0.376,"q":2.0e6},
{"s":"1000","x":0.384,"q":1.15e6},{"s":"1000","x":0.384,"q":1.45e6},{"s":"1000","x":0.384,"q":1.9e6},{"s":"1000","x":0.384,"q":2.8e6},
{"s":"1000","x":0.392,"q":1.0e6},{"s":"1000","x":0.392,"q":1.3e6},{"s":"1000","x":0.392,"q":1.7e6},
{"s":"1000","x":0.400,"q":1.1e6},{"s":"1000","x":0.400,"q":1.4e6},{"s":"1000","x":0.400,"q":1.8e6},{"s":"1000","x":0.400,"q":2.3e6},
{"s":"1000","x":0.408,"q":1.0e6},{"s":"1000","x":0.408,"q":1.25e6},{"s":"1000","x":0.408,"q":1.6e6},{"s":"1000","x":0.408,"q":2.0e6},
{"s":"1000","x":0.416,"q":1.15e6},{"s":"1000","x":0.416,"q":1.5e6},{"s":"1000","x":0.416,"q":2.4e6},
{"s":"1000","x":0.424,"q":1.0e6},{"s":"1000","x":0.424,"q":1.3e6},{"s":"1000","x":0.424,"q":1.8e6},
{"s":"1000","x":0.432,"q":1.1e6},{"s":"1000","x":0.432,"q":1.45e6},{"s":"1000","x":0.432,"q":2.1e6},{"s":"1000","x":0.432,"q":2.6e6},
{"s":"1000","x":0.440,"q":1.0e6},{"s":"1000","x":0.440,"q":1.25e6},{"s":"1000","x":0.440,"q":1.6e6},
{"s":"1000","x":0.448,"q":1.15e6},{"s":"1000","x":0.448,"q":1.9e6},
{"s":"1000","x":0.456,"q":1.0e6},{"s":"1000","x":0.456,"q":1.35e6},{"s":"1000","x":0.456,"q":1.7e6},{"s":"1000","x":0.456,"q":2.3e6},
{"s":"1000","x":0.464,"q":1.1e6},{"s":"1000","x":0.464,"q":1.5e6},
{"s":"1000","x":0.472,"q":1.0e6},{"s":"1000","x":0.472,"q":1.25e6},{"s":"1000","x":0.472,"q":2.0e6},
{"s":"1000","x":0.480,"q":1.15e6},{"s":"1000","x":0.480,"q":1.6e6},{"s":"1000","x":0.480,"q":2.7e6},
{"s":"1000","x":0.490,"q":1.0e6},{"s":"1000","x":0.490,"q":1.35e6},
{"s":"1000","x":0.500,"q":1.1e6},{"s":"1000","x":0.500,"q":1.8e6},{"s":"1000","x":0.500,"q":2.2e6},
{"s":"1000","x":0.510,"q":1.0e6},{"s":"1000","x":0.510,"q":1.45e6},
{"s":"1000","x":0.520,"q":1.2e6},{"s":"1000","x":0.520,"q":1.65e6},
{"s":"1000","x":0.530,"q":1.0e6},{"s":"1000","x":0.530,"q":2.0e6},
{"s":"1000","x":0.540,"q":1.1e6},{"s":"1000","x":0.540,"q":1.4e6},
{"s":"1000","x":0.550,"q":1.0e6},{"s":"1000","x":0.550,"q":1.7e6},
{"s":"1000","x":0.567,"q":1.66e6},{"s":"1000","x":0.581,"q":2.45e6},{"s":"1000","x":0.607,"q":1.55e6},{"s":"1000","x":0.595,"q":1.32e6},{"s":"1000","x":0.625,"q":1.2e6},{"s":"1000","x":0.637,"q":1.07e6},{"s":"1000","x":0.684,"q":1.17e6},{"s":"1000","x":0.737,"q":1.02e6},{"s":"1000","x":0.803,"q":1.86e6},
{"s":"1000","x":0.0625,"q":7.67e6},{"s":"1000","x":0.083,"q":7.67e6},{"s":"1000","x":0.0945,"q":9.5e6},{"s":"1000","x":0.106,"q":7.2e6},{"s":"1000","x":0.1675,"q":10.3e6},{"s":"1000","x":0.1925,"q":5.8e6},{"s":"1000","x":0.048,"q":5.8e6},{"s":"1000","x":0.065,"q":5.8e6},{"s":"1000","x":0.045,"q":4.6e6},{"s":"1000","x":0.054,"q":4.6e6},{"s":"1000","x":0.071,"q":5.1e6},{"s":"1000","x":0.089,"q":4.1e6},{"s":"1000","x":0.115,"q":4.1e6},{"s":"1000","x":0.141,"q":4.8e6},{"s":"1000","x":0.1545,"q":5.7e6},{"s":"1000","x":0.159,"q":4.6e6},{"s":"1000","x":0.173,"q":4.8e6},{"s":"1000","x":0.182,"q":4.1e6},{"s":"1000","x":0.2035,"q":3.5e6},{"s":"1000","x":0.222,"q":3.5e6},{"s":"1000","x":0.246,"q":4.2e6},{"s":"1000","x":0.036,"q":3.8e6},{"s":"1000","x":0.306,"q":10.3e6},{"s":"1000","x":0.353,"q":7.2e6},{"s":"1000","x":0.357,"q":4.95e6},{"s":"1000","x":0.366,"q":4.8e6},{"s":"1000","x":0.436,"q":4.6e6},{"s":"1000","x":0.4545,"q":5.8e6},{"s":"1000","x":0.466,"q":7.7e6},{"s":"1000","x":0.5175,"q":9.4e6},{"s":"1000","x":0.520,"q":4.8e6},{"s":"1000","x":0.545,"q":3.8e6},{"s":"1000","x":0.563,"q":4.8e6},{"s":"1000","x":0.631,"q":7.67e6},{"s":"1000","x":0.6235,"q":5.8e6}
      ]},
      "mark": {"type": "circle", "size": 85, "opacity": 1, "clip": true},
      "encoding": {
        "x": {"field": "x", "type": "quantitative", "scale": {"domain": [0, 0.848], "nice": false, "zero": false},
          "axis": {"values": [0,0.02,0.04,0.06,0.08,0.1,0.12,0.14,0.16,0.18,0.2,0.22,0.24,0.26,0.28,0.3,0.32,0.34,0.36,0.38,0.4,0.42,0.44,0.46,0.48,0.5,0.52,0.54,0.56,0.58,0.6,0.62,0.64,0.66,0.68,0.7,0.72,0.74,0.76,0.78,0.8,0.82,0.84],
            "labelExpr": "indexof([0.1,0.2,0.3,0.4,0.5,0.6,0.7,0.8], datum.value) >= 0 ? format(datum.value, '.1f') : (datum.value == 0 ? '0' : '')",
            "labelFontSize": 13, "labelPadding": 14.5,
            "tickSize": {"condition": {"test": "indexof([0,0.1,0.2,0.3,0.4,0.5,0.6,0.7,0.8], datum.value) >= 0", "value": -10.5}, "value": -5.5},
            "title": "x", "titleFontSize": 16, "titleX": 484, "titleY": 31, "titleAlign": "right", "titleBaseline": "alphabetic"}},
        "y": {"field": "q", "type": "quantitative", "scale": {"type": "log", "domain": [1000, 100000000], "nice": false},
          "axis": {"values": [2000,3000,4000,5000,6000,7000,8000,9000,10000,20000,30000,40000,50000,60000,70000,80000,90000,100000,200000,300000,400000,500000,600000,700000,800000,900000,1000000,2000000,3000000,4000000,5000000,6000000,7000000,8000000,9000000,10000000,20000000,30000000,40000000,50000000,60000000,70000000,80000000,90000000,100000000],
            "labelExpr": "datum.value == 100000000 ? '10⁸' : datum.value == 10000000 ? '10⁷' : datum.value == 1000000 ? '10⁶' : datum.value == 100000 ? '10⁵' : datum.value == 10000 ? '10⁴' : ''",
            "labelFontSize": 12, "labelPadding": 17.5,
            "tickSize": {"condition": {"test": "indexof([10000,100000,1000000,10000000,100000000], datum.value) >= 0", "value": -13}, "value": -6.5},
            "title": "Q²(GeV)²", "titleFontSize": 16, "titleX": -35, "titleY": -4, "titleAlign": "right", "titleBaseline": "alphabetic", "titleAngle": 270}},
        "color": {"field": "s", "type": "nominal", "scale": {"domain": ["70","1000","2000"], "range": ["#00ff00","#ff0000","#000000"]}, "legend": null}
      }
    },
    {"mark": {"type": "rect", "opacity": 0}, "encoding": {"x": {"datum": -0.13636, "type": "quantitative", "scale": {"domain": [0, 1]}, "axis": null}, "x2": {"datum": 2.35537}, "y": {"datum": 1.13272, "type": "quantitative", "scale": {"domain": [0, 1]}, "axis": null}, "y2": {"datum": -1.38272}}},
    {"mark": {"type": "rule", "color": "#d2d2d2", "strokeWidth": 1}, "encoding": {"x": {"datum": 1.125, "type": "quantitative", "scale": {"domain": [0, 1]}, "axis": null}, "y": {"datum": 1.13272, "type": "quantitative", "scale": {"domain": [0, 1]}, "axis": null}, "y2": {"datum": -1.38272}}},
    {"mark": {"type": "rule", "color": "#d2d2d2", "strokeWidth": 1}, "encoding": {"x": {"datum": -0.13636, "type": "quantitative", "scale": {"domain": [0, 1]}, "axis": null}, "x2": {"datum": 2.35537}, "y": {"datum": -0.125, "type": "quantitative", "scale": {"domain": [0, 1]}, "axis": null}}},
    {"mark": {"type": "rect", "fill": "#000000"}, "encoding": {"x": {"datum": -0.10537, "type": "quantitative", "scale": {"domain": [0, 1]}, "axis": null}, "x2": {"datum": 0.61983}, "y": {"datum": 1.11111, "type": "quantitative", "scale": {"domain": [0, 1]}, "axis": null}, "y2": {"datum": 1.04630}}},
    {"mark": {"type": "rect", "fill": "#f2f2f2", "stroke": "#000000", "strokeWidth": 1}, "encoding": {"x": {"datum": -0.11157, "type": "quantitative", "scale": {"domain": [0, 1]}, "axis": null}, "x2": {"datum": 0.61364}, "y": {"datum": 1.12037, "type": "quantitative", "scale": {"domain": [0, 1]}, "axis": null}, "y2": {"datum": 1.05556}}},
    {"mark": {"type": "text", "fontSize": 16, "fontWeight": "bold", "align": "center", "baseline": "middle"}, "encoding": {"x": {"datum": 0.25103, "type": "quantitative", "scale": {"domain": [0, 1]}, "axis": null}, "y": {"datum": 1.08796, "type": "quantitative", "scale": {"domain": [0, 1]}, "axis": null}, "text": {"value": "Parton Kinematics for Drell Yan at LHC"}}},
    {"mark": {"type": "rect", "fill": "#000000"}, "encoding": {"x": {"datum": 0.50826, "type": "quantitative", "scale": {"domain": [0, 1]}, "axis": null}, "x2": {"datum": 0.88429}, "y": {"datum": 0.36419, "type": "quantitative", "scale": {"domain": [0, 1]}, "axis": null}, "y2": {"datum": 0.11111}}},
    {"mark": {"type": "rect", "fill": "#f2f2f2", "stroke": "#000000", "strokeWidth": 1}, "encoding": {"x": {"datum": 0.5, "type": "quantitative", "scale": {"domain": [0, 1]}, "axis": null}, "x2": {"datum": 0.87603}, "y": {"datum": 0.37654, "type": "quantitative", "scale": {"domain": [0, 1]}, "axis": null}, "y2": {"datum": 0.12346}}},
    {"encoding": {"y": {"datum": 0.33333, "type": "quantitative", "scale": {"domain": [0, 1]}, "axis": null}},
     "layer": [
      {"mark": {"type": "circle", "size": 40, "color": "#00ff00", "opacity": 1}, "encoding": {"x": {"datum": 0.54752, "type": "quantitative", "scale": {"domain": [0, 1]}, "axis": null}}},
      {"mark": {"type": "text", "fontSize": 19, "align": "left", "baseline": "middle"}, "encoding": {"x": {"datum": 0.59091, "type": "quantitative", "scale": {"domain": [0, 1]}, "axis": null}, "text": {"value": "M"}}},
      {"mark": {"type": "text", "fontSize": 11, "align": "left", "baseline": "middle", "dx": 16, "dy": 6}, "encoding": {"x": {"datum": 0.59091, "type": "quantitative", "scale": {"domain": [0, 1]}, "axis": null}, "text": {"value": "ll"}}},
      {"mark": {"type": "text", "fontSize": 19, "align": "left", "baseline": "middle", "dx": 21}, "encoding": {"x": {"datum": 0.59091, "type": "quantitative", "scale": {"domain": [0, 1]}, "axis": null}, "text": {"value": "=70 GeV"}}}
     ]},
    {"encoding": {"y": {"datum": 0.25, "type": "quantitative", "scale": {"domain": [0, 1]}, "axis": null}},
     "layer": [
      {"mark": {"type": "circle", "size": 40, "color": "#ff0000", "opacity": 1}, "encoding": {"x": {"datum": 0.54752, "type": "quantitative", "scale": {"domain": [0, 1]}, "axis": null}}},
      {"mark": {"type": "text", "fontSize": 19, "align": "left", "baseline": "middle"}, "encoding": {"x": {"datum": 0.59091, "type": "quantitative", "scale": {"domain": [0, 1]}, "axis": null}, "text": {"value": "M"}}},
      {"mark": {"type": "text", "fontSize": 11, "align": "left", "baseline": "middle", "dx": 16, "dy": 6}, "encoding": {"x": {"datum": 0.59091, "type": "quantitative", "scale": {"domain": [0, 1]}, "axis": null}, "text": {"value": "ll"}}},
      {"mark": {"type": "text", "fontSize": 19, "align": "left", "baseline": "middle", "dx": 21}, "encoding": {"x": {"datum": 0.59091, "type": "quantitative", "scale": {"domain": [0, 1]}, "axis": null}, "text": {"value": "=1000 GeV"}}}
     ]},
    {"encoding": {"y": {"datum": 0.16667, "type": "quantitative", "scale": {"domain": [0, 1]}, "axis": null}},
     "layer": [
      {"mark": {"type": "circle", "size": 40, "color": "#000000", "opacity": 1}, "encoding": {"x": {"datum": 0.54752, "type": "quantitative", "scale": {"domain": [0, 1]}, "axis": null}}},
      {"mark": {"type": "text", "fontSize": 19, "align": "left", "baseline": "middle"}, "encoding": {"x": {"datum": 0.59091, "type": "quantitative", "scale": {"domain": [0, 1]}, "axis": null}, "text": {"value": "M"}}},
      {"mark": {"type": "text", "fontSize": 11, "align": "left", "baseline": "middle", "dx": 16, "dy": 6}, "encoding": {"x": {"datum": 0.59091, "type": "quantitative", "scale": {"domain": [0, 1]}, "axis": null}, "text": {"value": "ll"}}},
      {"mark": {"type": "text", "fontSize": 19, "align": "left", "baseline": "middle", "dx": 21}, "encoding": {"x": {"datum": 0.59091, "type": "quantitative", "scale": {"domain": [0, 1]}, "axis": null}, "text": {"value": "=2000 GeV"}}}
     ]}
  ]
},
{
  "width": 483, "height": 324,
  "resolve": {"scale": {"x": "independent", "y": "independent"}},
  "layer": [
    {
      "data": {"values": [{"flavor": "d", "count": 71970}, {"flavor": "u", "count": 64280}, {"flavor": "s", "count": 34500}, {"flavor": "c", "count": 19630}, {"flavor": "b", "count": 10130}]},
      "mark": {"type": "bar", "color": "#00ff00", "stroke": "#00ff00", "strokeWidth": 1, "clip": true},
      "encoding": {
        "x": {"field": "flavor", "type": "ordinal", "sort": ["d","u","s","c","b"], "scale": {"paddingInner": 0, "paddingOuter": 0},
          "axis": {"title": null, "labelAngle": 0, "labelFontSize": 19, "tickSize": -10, "labelBaseline": "alphabetic", "labelPadding": {"condition": {"test": "datum.value == 'd' || datum.value == 'b'", "value": 26}, "value": 21}}},
        "y": {"field": "count", "type": "quantitative", "scale": {"domain": [7200, 75150], "nice": false, "zero": false},
          "axis": {"title": null, "values": [8000,10000,12000,14000,16000,18000,20000,22000,24000,26000,28000,30000,32000,34000,36000,38000,40000,42000,44000,46000,48000,50000,52000,54000,56000,58000,60000,62000,64000,66000,68000,70000,72000,74000],
            "labelExpr": "datum.value % 10000 == 0 ? format(datum.value, 'd') : ''", "labelFontSize": 15, "labelPadding": 13,
            "tickSize": {"condition": {"test": "datum.value % 10000 == 0", "value": -8}, "value": -5}}}
      }
    },
    {"mark": {"type": "rect", "fill": "#000000"}, "encoding": {"x": {"datum": -0.11180, "type": "quantitative", "scale": {"domain": [0, 1]}, "axis": null}, "x2": {"datum": 0.03313}, "y": {"datum": 1.10802, "type": "quantitative", "scale": {"domain": [0, 1]}, "axis": null}, "y2": {"datum": 1.04321}}},
    {"mark": {"type": "rect", "fill": "#f2f2f2", "stroke": "#000000", "strokeWidth": 1}, "encoding": {"x": {"datum": -0.11801, "type": "quantitative", "scale": {"domain": [0, 1]}, "axis": null}, "x2": {"datum": 0.02692}, "y": {"datum": 1.11728, "type": "quantitative", "scale": {"domain": [0, 1]}, "axis": null}, "y2": {"datum": 1.05247}}},
    {"mark": {"type": "text", "fontSize": 16, "fontWeight": "bold", "align": "center", "baseline": "middle"}, "encoding": {"x": {"datum": -0.04555, "type": "quantitative", "scale": {"domain": [0, 1]}, "axis": null}, "y": {"datum": 1.08488, "type": "quantitative", "scale": {"domain": [0, 1]}, "axis": null}, "text": {"value": "DY_70"}}},
    {"mark": {"type": "rect", "fill": "#000000"}, "encoding": {"x": {"datum": 0.85093, "type": "quantitative", "scale": {"domain": [0, 1]}, "axis": null}, "x2": {"datum": 1.09938}, "y": {"datum": 1.11420, "type": "quantitative", "scale": {"domain": [0, 1]}, "axis": null}, "y2": {"datum": 0.91358}}},
    {"mark": {"type": "rect", "fill": "#f2f2f2", "stroke": "#000000", "strokeWidth": 1}, "encoding": {"x": {"datum": 0.84679, "type": "quantitative", "scale": {"domain": [0, 1]}, "axis": null}, "x2": {"datum": 1.09524}, "y": {"datum": 1.12037, "type": "quantitative", "scale": {"domain": [0, 1]}, "axis": null}, "y2": {"datum": 0.91975}}},
    {"mark": {"type": "rule", "color": "#000000", "strokeWidth": 1}, "encoding": {"x": {"datum": 0.84679, "type": "quantitative", "scale": {"domain": [0, 1]}, "axis": null}, "x2": {"datum": 1.09524}, "y": {"datum": 1.07407, "type": "quantitative", "scale": {"domain": [0, 1]}, "axis": null}}},
    {"mark": {"type": "text", "fontSize": 14, "fontWeight": "bold", "align": "center", "baseline": "middle"}, "encoding": {"x": {"datum": 0.97101, "type": "quantitative", "scale": {"domain": [0, 1]}, "axis": null}, "y": {"datum": 1.09722, "type": "quantitative", "scale": {"domain": [0, 1]}, "axis": null}, "text": {"value": "h_Flavor"}}},
    {"encoding": {"y": {"datum": 1.04198, "type": "quantitative", "scale": {"domain": [0, 1]}, "axis": null}}, "layer": [
      {"mark": {"type": "text", "fontSize": 14, "fontWeight": "bold", "align": "left", "baseline": "middle"}, "encoding": {"x": {"datum": 0.85714, "type": "quantitative", "scale": {"domain": [0, 1]}, "axis": null}, "text": {"value": "Entries"}}},
      {"mark": {"type": "text", "fontSize": 14, "fontWeight": "bold", "align": "right", "baseline": "middle"}, "encoding": {"x": {"datum": 1.08489, "type": "quantitative", "scale": {"domain": [0, 1]}, "axis": null}, "text": {"value": "200000"}}}]},
    {"encoding": {"y": {"datum": 0.99012, "type": "quantitative", "scale": {"domain": [0, 1]}, "axis": null}}, "layer": [
      {"mark": {"type": "text", "fontSize": 14, "fontWeight": "bold", "align": "left", "baseline": "middle"}, "encoding": {"x": {"datum": 0.85714, "type": "quantitative", "scale": {"domain": [0, 1]}, "axis": null}, "text": {"value": "Mean"}}},
      {"mark": {"type": "text", "fontSize": 14, "fontWeight": "bold", "align": "right", "baseline": "middle"}, "encoding": {"x": {"datum": 1.08489, "type": "quantitative", "scale": {"domain": [0, 1]}, "axis": null}, "text": {"value": "2.162"}}}]},
    {"encoding": {"y": {"datum": 0.94074, "type": "quantitative", "scale": {"domain": [0, 1]}, "axis": null}}, "layer": [
      {"mark": {"type": "text", "fontSize": 14, "fontWeight": "bold", "align": "left", "baseline": "middle"}, "encoding": {"x": {"datum": 0.85714, "type": "quantitative", "scale": {"domain": [0, 1]}, "axis": null}, "text": {"value": "RMS"}}},
      {"mark": {"type": "text", "fontSize": 14, "fontWeight": "bold", "align": "right", "baseline": "middle"}, "encoding": {"x": {"datum": 1.08489, "type": "quantitative", "scale": {"domain": [0, 1]}, "axis": null}, "text": {"value": "1.164"}}}]}
  ]
},
{
  "width": 484, "height": 324,
  "resolve": {"scale": {"x": "independent", "y": "independent"}},
  "layer": [
    {
      "data": {"values": [{"flavor": "d", "count": 43000}, {"flavor": "u", "count": 149600}, {"flavor": "s", "count": 3500}, {"flavor": "c", "count": 3000}, {"flavor": "b", "count": 600}]},
      "mark": {"type": "bar", "color": "#ff0000", "stroke": "#ff0000", "strokeWidth": 1, "clip": true},
      "encoding": {
        "x": {"field": "flavor", "type": "ordinal", "sort": ["d","u","s","c","b"], "scale": {"paddingInner": 0, "paddingOuter": 0},
          "axis": {"title": null, "labelAngle": 0, "labelFontSize": 19, "tickSize": -10, "labelBaseline": "alphabetic", "labelPadding": {"condition": {"test": "datum.value == 'd' || datum.value == 'b'", "value": 26}, "value": 21}}},
        "y": {"field": "count", "type": "quantitative", "scale": {"domain": [0, 157000], "nice": false},
          "axis": {"title": null, "values": [0,5000,10000,15000,20000,25000,30000,35000,40000,45000,50000,55000,60000,65000,70000,75000,80000,85000,90000,95000,100000,105000,110000,115000,120000,125000,130000,135000,140000,145000,150000,155000],
            "labelExpr": "datum.value % 20000 == 0 ? format(datum.value / 1000, 'd') : ''", "labelFontSize": 15, "labelPadding": 18,
            "tickSize": {"condition": {"test": "datum.value % 20000 == 0", "value": -14}, "value": -7}}}
      }
    },
    {"mark": {"type": "rect", "fill": "#000000"}, "encoding": {"x": {"datum": -0.10537, "type": "quantitative", "scale": {"domain": [0, 1]}, "axis": null}, "x2": {"datum": 0.07851}, "y": {"datum": 1.11420, "type": "quantitative", "scale": {"domain": [0, 1]}, "axis": null}, "y2": {"datum": 1.04321}}},
    {"mark": {"type": "rect", "fill": "#f2f2f2", "stroke": "#000000", "strokeWidth": 1}, "encoding": {"x": {"datum": -0.11157, "type": "quantitative", "scale": {"domain": [0, 1]}, "axis": null}, "x2": {"datum": 0.07231}, "y": {"datum": 1.12346, "type": "quantitative", "scale": {"domain": [0, 1]}, "axis": null}, "y2": {"datum": 1.05247}}},
    {"mark": {"type": "text", "fontSize": 16, "fontWeight": "bold", "align": "center", "baseline": "middle"}, "encoding": {"x": {"datum": -0.01963, "type": "quantitative", "scale": {"domain": [0, 1]}, "axis": null}, "y": {"datum": 1.08796, "type": "quantitative", "scale": {"domain": [0, 1]}, "axis": null}, "text": {"value": "DY_1000"}}},
    {"mark": {"type": "rect", "fill": "#000000"}, "encoding": {"x": {"datum": 0.85537, "type": "quantitative", "scale": {"domain": [0, 1]}, "axis": null}, "x2": {"datum": 1.10331}, "y": {"datum": 1.11420, "type": "quantitative", "scale": {"domain": [0, 1]}, "axis": null}, "y2": {"datum": 0.91049}}},
    {"mark": {"type": "rect", "fill": "#f2f2f2", "stroke": "#000000", "strokeWidth": 1}, "encoding": {"x": {"datum": 0.85124, "type": "quantitative", "scale": {"domain": [0, 1]}, "axis": null}, "x2": {"datum": 1.09917}, "y": {"datum": 1.12037, "type": "quantitative", "scale": {"domain": [0, 1]}, "axis": null}, "y2": {"datum": 0.91667}}},
    {"mark": {"type": "rule", "color": "#000000", "strokeWidth": 1}, "encoding": {"x": {"datum": 0.85124, "type": "quantitative", "scale": {"domain": [0, 1]}, "axis": null}, "x2": {"datum": 1.09917}, "y": {"datum": 1.07099, "type": "quantitative", "scale": {"domain": [0, 1]}, "axis": null}}},
    {"mark": {"type": "text", "fontSize": 14, "fontWeight": "bold", "align": "center", "baseline": "middle"}, "encoding": {"x": {"datum": 0.97521, "type": "quantitative", "scale": {"domain": [0, 1]}, "axis": null}, "y": {"datum": 1.09568, "type": "quantitative", "scale": {"domain": [0, 1]}, "axis": null}, "text": {"value": "h_Flavor"}}},
    {"encoding": {"y": {"datum": 1.04228, "type": "quantitative", "scale": {"domain": [0, 1]}, "axis": null}}, "layer": [
      {"mark": {"type": "text", "fontSize": 14, "fontWeight": "bold", "align": "left", "baseline": "middle"}, "encoding": {"x": {"datum": 0.86157, "type": "quantitative", "scale": {"domain": [0, 1]}, "axis": null}, "text": {"value": "Entries"}}},
      {"mark": {"type": "text", "fontSize": 14, "fontWeight": "bold", "align": "right", "baseline": "middle"}, "encoding": {"x": {"datum": 1.08884, "type": "quantitative", "scale": {"domain": [0, 1]}, "axis": null}, "text": {"value": "200000"}}}]},
    {"encoding": {"y": {"datum": 0.99074, "type": "quantitative", "scale": {"domain": [0, 1]}, "axis": null}}, "layer": [
      {"mark": {"type": "text", "fontSize": 14, "fontWeight": "bold", "align": "left", "baseline": "middle"}, "encoding": {"x": {"datum": 0.86157, "type": "quantitative", "scale": {"domain": [0, 1]}, "axis": null}, "text": {"value": "Mean"}}},
      {"mark": {"type": "text", "fontSize": 14, "fontWeight": "bold", "align": "right", "baseline": "middle"}, "encoding": {"x": {"datum": 1.08884, "type": "quantitative", "scale": {"domain": [0, 1]}, "axis": null}, "text": {"value": "1.841"}}}]},
    {"encoding": {"y": {"datum": 0.94136, "type": "quantitative", "scale": {"domain": [0, 1]}, "axis": null}}, "layer": [
      {"mark": {"type": "text", "fontSize": 14, "fontWeight": "bold", "align": "left", "baseline": "middle"}, "encoding": {"x": {"datum": 0.86157, "type": "quantitative", "scale": {"domain": [0, 1]}, "axis": null}, "text": {"value": "RMS"}}},
      {"mark": {"type": "text", "fontSize": 14, "fontWeight": "bold", "align": "right", "baseline": "middle"}, "encoding": {"x": {"datum": 1.08884, "type": "quantitative", "scale": {"domain": [0, 1]}, "axis": null}, "text": {"value": "0.5469"}}}]},
    {"encoding": {"x": {"datum": -0.00207, "type": "quantitative", "scale": {"domain": [0, 1]}, "axis": null}, "y": {"datum": 1.00617, "type": "quantitative", "scale": {"domain": [0, 1]}, "axis": null}}, "layer": [
      {"mark": {"type": "text", "fontSize": 17, "align": "left", "baseline": "alphabetic"}, "encoding": {"text": {"value": "×10"}}},
      {"mark": {"type": "text", "fontSize": 10, "align": "left", "baseline": "alphabetic", "dx": 29, "dy": -7}, "encoding": {"text": {"value": "3"}}}]}
  ]
},
{
  "width": 483, "height": 324,
  "resolve": {"scale": {"x": "independent", "y": "independent"}},
  "layer": [
    {
      "data": {"values": [{"flavor": "d", "count": 39500}, {"flavor": "u", "count": 157200}, {"flavor": "s", "count": 1400}, {"flavor": "c", "count": 900}, {"flavor": "b", "count": 200}]},
      "mark": {"type": "bar", "color": "#000000", "stroke": "#000000", "strokeWidth": 1, "clip": true},
      "encoding": {
        "x": {"field": "flavor", "type": "ordinal", "sort": ["d","u","s","c","b"], "scale": {"paddingInner": 0, "paddingOuter": 0},
          "axis": {"title": null, "labelAngle": 0, "labelFontSize": 19, "tickSize": -10, "labelBaseline": "alphabetic", "labelPadding": {"condition": {"test": "datum.value == 'd' || datum.value == 'b'", "value": 26}, "value": 21}}},
        "y": {"field": "count", "type": "quantitative", "scale": {"domain": [0, 165060], "nice": false},
          "axis": {"title": null, "values": [0,5000,10000,15000,20000,25000,30000,35000,40000,45000,50000,55000,60000,65000,70000,75000,80000,85000,90000,95000,100000,105000,110000,115000,120000,125000,130000,135000,140000,145000,150000,155000,160000,165000],
            "labelExpr": "datum.value % 20000 == 0 ? format(datum.value / 1000, 'd') : ''", "labelFontSize": 15, "labelPadding": 18,
            "tickSize": {"condition": {"test": "datum.value % 20000 == 0", "value": -14}, "value": -7}}}
      }
    },
    {"mark": {"type": "rect", "fill": "#000000"}, "encoding": {"x": {"datum": -0.10766, "type": "quantitative", "scale": {"domain": [0, 1]}, "axis": null}, "x2": {"datum": 0.07453}, "y": {"datum": 1.11420, "type": "quantitative", "scale": {"domain": [0, 1]}, "axis": null}, "y2": {"datum": 1.04321}}},
    {"mark": {"type": "rect", "fill": "#f2f2f2", "stroke": "#000000", "strokeWidth": 1}, "encoding": {"x": {"datum": -0.11387, "type": "quantitative", "scale": {"domain": [0, 1]}, "axis": null}, "x2": {"datum": 0.06832}, "y": {"datum": 1.12346, "type": "quantitative", "scale": {"domain": [0, 1]}, "axis": null}, "y2": {"datum": 1.05247}}},
    {"mark": {"type": "text", "fontSize": 16, "fontWeight": "bold", "align": "center", "baseline": "middle"}, "encoding": {"x": {"datum": -0.02381, "type": "quantitative", "scale": {"domain": [0, 1]}, "axis": null}, "y": {"datum": 1.08796, "type": "quantitative", "scale": {"domain": [0, 1]}, "axis": null}, "text": {"value": "DY_2000"}}},
    {"mark": {"type": "rect", "fill": "#000000"}, "encoding": {"x": {"datum": 0.85300, "type": "quantitative", "scale": {"domain": [0, 1]}, "axis": null}, "x2": {"datum": 1.10145}, "y": {"datum": 1.11420, "type": "quantitative", "scale": {"domain": [0, 1]}, "axis": null}, "y2": {"datum": 0.91049}}},
    {"mark": {"type": "rect", "fill": "#f2f2f2", "stroke": "#000000", "strokeWidth": 1}, "encoding": {"x": {"datum": 0.84886, "type": "quantitative", "scale": {"domain": [0, 1]}, "axis": null}, "x2": {"datum": 1.09731}, "y": {"datum": 1.12037, "type": "quantitative", "scale": {"domain": [0, 1]}, "axis": null}, "y2": {"datum": 0.91667}}},
    {"mark": {"type": "rule", "color": "#000000", "strokeWidth": 1}, "encoding": {"x": {"datum": 0.84886, "type": "quantitative", "scale": {"domain": [0, 1]}, "axis": null}, "x2": {"datum": 1.09731}, "y": {"datum": 1.07099, "type": "quantitative", "scale": {"domain": [0, 1]}, "axis": null}}},
    {"mark": {"type": "text", "fontSize": 14, "fontWeight": "bold", "align": "center", "baseline": "middle"}, "encoding": {"x": {"datum": 0.97308, "type": "quantitative", "scale": {"domain": [0, 1]}, "axis": null}, "y": {"datum": 1.09568, "type": "quantitative", "scale": {"domain": [0, 1]}, "axis": null}, "text": {"value": "h_Flavor"}}},
    {"encoding": {"y": {"datum": 1.04228, "type": "quantitative", "scale": {"domain": [0, 1]}, "axis": null}}, "layer": [
      {"mark": {"type": "text", "fontSize": 14, "fontWeight": "bold", "align": "left", "baseline": "middle"}, "encoding": {"x": {"datum": 0.85921, "type": "quantitative", "scale": {"domain": [0, 1]}, "axis": null}, "text": {"value": "Entries"}}},
      {"mark": {"type": "text", "fontSize": 14, "fontWeight": "bold", "align": "right", "baseline": "middle"}, "encoding": {"x": {"datum": 1.08696, "type": "quantitative", "scale": {"domain": [0, 1]}, "axis": null}, "text": {"value": "200000"}}}]},
    {"encoding": {"y": {"datum": 0.99074, "type": "quantitative", "scale": {"domain": [0, 1]}, "axis": null}}, "layer": [
      {"mark": {"type": "text", "fontSize": 14, "fontWeight": "bold", "align": "left", "baseline": "middle"}, "encoding": {"x": {"datum": 0.85921, "type": "quantitative", "scale": {"domain": [0, 1]}, "axis": null}, "text": {"value": "Mean"}}},
      {"mark": {"type": "text", "fontSize": 14, "fontWeight": "bold", "align": "right", "baseline": "middle"}, "encoding": {"x": {"datum": 1.08696, "type": "quantitative", "scale": {"domain": [0, 1]}, "axis": null}, "text": {"value": "1.827"}}}]},
    {"encoding": {"y": {"datum": 0.94136, "type": "quantitative", "scale": {"domain": [0, 1]}, "axis": null}}, "layer": [
      {"mark": {"type": "text", "fontSize": 14, "fontWeight": "bold", "align": "left", "baseline": "middle"}, "encoding": {"x": {"datum": 0.85921, "type": "quantitative", "scale": {"domain": [0, 1]}, "axis": null}, "text": {"value": "RMS"}}},
      {"mark": {"type": "text", "fontSize": 14, "fontWeight": "bold", "align": "right", "baseline": "middle"}, "encoding": {"x": {"datum": 1.08696, "type": "quantitative", "scale": {"domain": [0, 1]}, "axis": null}, "text": {"value": "0.4643"}}}]},
    {"encoding": {"x": {"datum": -0.00414, "type": "quantitative", "scale": {"domain": [0, 1]}, "axis": null}, "y": {"datum": 1.00617, "type": "quantitative", "scale": {"domain": [0, 1]}, "axis": null}}, "layer": [
      {"mark": {"type": "text", "fontSize": 17, "align": "left", "baseline": "alphabetic"}, "encoding": {"text": {"value": "×10"}}},
      {"mark": {"type": "text", "fontSize": 10, "align": "left", "baseline": "alphabetic", "dx": 29, "dy": -7}, "encoding": {"text": {"value": "3"}}}]}
  ]
}
]
}
